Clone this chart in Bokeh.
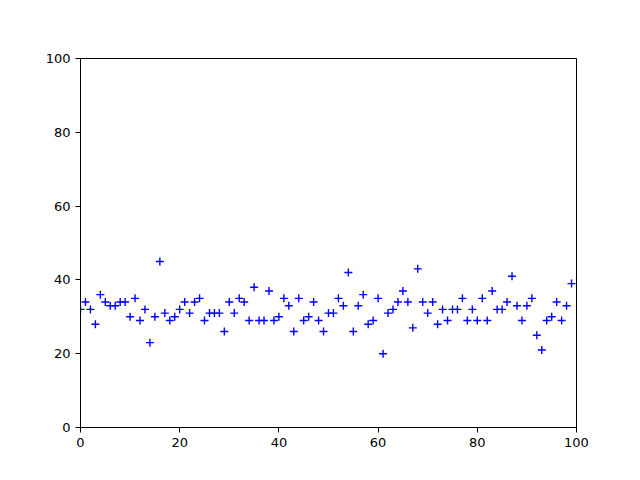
from bokeh.plotting import figure
from bokeh.embed import file_html
from bokeh.resources import INLINE
from bokeh.models import FixedTicker, Range1d

x_values = list(range(100))
y_values = [32, 34, 32, 28, 36, 34, 33, 33, 34, 34,
            30, 35, 29, 32, 23, 30, 45, 31, 29, 30,
            32, 34, 31, 34, 35, 29, 31, 31, 31, 26,
            34, 31, 35, 34, 29, 38, 29, 29, 37, 29,
            30, 35, 33, 26, 35, 29, 30, 34, 29, 26,
            31, 31, 35, 33, 42, 26, 33, 36, 28, 29,
            35, 20, 31, 32, 34, 37, 34, 27, 43, 34,
            31, 34, 28, 32, 29, 32, 32, 35, 29, 32,
            29, 35, 29, 37, 32, 32, 34, 41, 33, 29,
            33, 35, 25, 21, 29, 30, 34, 29, 33, 39]
ticks = [0, 20, 40, 60, 80, 100]

p = figure(output_backend="svg", toolbar_location=None,
           frame_width=496, frame_height=369,
           min_border_left=80, min_border_top=58,
           min_border_right=48, min_border_bottom=45,
           x_range=Range1d(0, 100), y_range=Range1d(0, 100))

p.scatter(x_values, y_values, marker="cross", size=8, line_color="blue",
          line_width=1.4)

p.xgrid.visible = False
p.ygrid.visible = False
p.outline_line_color = "black"
p.outline_line_alpha = 1
p.outline_line_width = 1
p.background_fill_color = "white"
p.border_fill_color = "white"

for ax in (p.xaxis[0], p.yaxis[0]):
    ax.ticker = FixedTicker(ticks=ticks)
    ax.minor_tick_line_color = None
    ax.major_tick_out = 5
    ax.major_tick_in = 0
    ax.major_label_text_font = "DejaVu Sans"
    ax.major_label_text_font_size = "13px"
    ax.major_label_text_color = "black"
    ax.axis_line_color = "black"
    ax.major_tick_line_color = "black"
    ax.major_label_standoff = 5

open("out.html", "w").write(file_html(p, INLINE))
